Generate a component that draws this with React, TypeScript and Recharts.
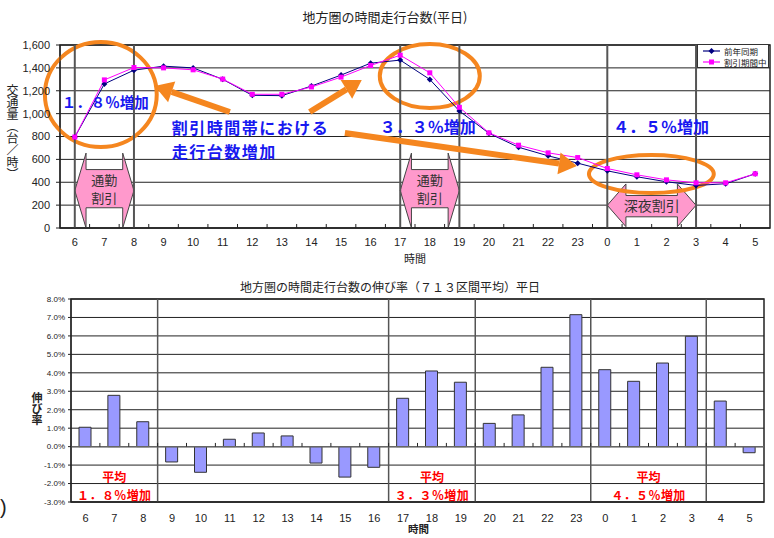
import React from 'react';
import {
  Bar,
  BarChart,
  CartesianGrid,
  Line,
  LineChart,
  ReferenceArea,
  ReferenceDot,
  ReferenceLine,
  XAxis,
  YAxis,
} from 'recharts';

// hours of the day, 6 am through 5 am next day
const hours = ['6', '7', '8', '9', '10', '11', '12', '13', '14', '15', '16', '17', '18', '19', '20', '21', '22', '23', '0', '1', '2', '3', '4', '5'];

// vehicles per hour
const prevYear = [795, 1260, 1380, 1415, 1400, 1300, 1160, 1157, 1241, 1337, 1441, 1468, 1299, 1023, 828, 706, 631, 567, 500, 448, 404, 372, 387, 474];
const discountPeriod = [795, 1295, 1403, 1400, 1383, 1302, 1169, 1169, 1233, 1319, 1421, 1511, 1357, 1055, 832, 724, 657, 616, 520, 465, 421, 395, 395, 474];

// growth rate, %
const growthRate = [1.05, 2.78, 1.35, -0.83, -1.39, 0.4, 0.74, 0.58, -0.89, -1.65, -1.12, 2.62, 4.1, 3.49, 1.26, 1.72, 4.3, 7.15, 4.17, 3.54, 4.53, 5.98, 2.47, -0.33];

const seriesNames = ['前年同期', '割引期間中'];
const volumeTicks = [0, 200, 400, 600, 800, 1000, 1200, 1400, 1600];
const rateTicks = [-3, -2, -1, 0, 1, 2, 3, 4, 5, 6, 7, 8];

// hours where the top chart has a dividing line, and hours after which the bottom chart has one
const topDividers = ['6', '8', '17', '19', '0', '3'];
const bottomDividersAfter = ['8', '16', '19', '23', '3'];

const idx = hours.map((_, i) => i);
const topData = hours.map((h, i) => ({i, hour: h, prev: prevYear[i], disc: discountPeriod[i]}));
const barData = hours.map((h, i) => ({i, hour: h, rate: growthRate[i]}));

const NAVY = '#000080';
const MAGENTA = '#ff00ff';
const ORANGE = '#f5861f';
const BLUE = '#1818f0';
const PINK = '#ff99cc';
const JP = '"Noto Sans CJK JP", sans-serif';
const NUM = '"Liberation Sans", Arial, sans-serif';

const diamond = (p: any) => {
  const {cx, cy} = p;
  if (cx == null || cy == null) return <g key={p.key} />;
  return <path key={p.key} d={`M${cx},${cy - 3}L${cx + 3},${cy}L${cx},${cy + 3}L${cx - 3},${cy}Z`} fill={NAVY} />;
};
const square = (p: any) => {
  const {cx, cy} = p;
  if (cx == null || cy == null) return <g key={p.key} />;
  return <rect key={p.key} x={cx - 2.5} y={cy - 2.5} width={5} height={5} fill={MAGENTA} />;
};

const ellipse = (p: any) => (
  <ellipse
    cx={p.x + p.width / 2}
    cy={p.y + p.height / 2}
    rx={Math.abs(p.width) / 2}
    ry={Math.abs(p.height) / 2}
    fill="none"
    stroke={ORANGE}
    strokeWidth={4}
  />
);

const arrow = (p: any) => {
  const {x1, y1, x2, y2} = p;
  const dx = x2 - x1;
  const dy = y2 - y1;
  const len = Math.hypot(dx, dy) || 1;
  const ux = dx / len;
  const uy = dy / len;
  const hl = 18;
  const hw = 11;
  const bx = x2 - ux * hl;
  const by = y2 - uy * hl;
  return (
    <g>
      <line x1={x1} y1={y1} x2={bx} y2={by} stroke={ORANGE} strokeWidth={6} />
      <polygon points={`${x2},${y2} ${bx - uy * hw},${by + ux * hw} ${bx + uy * hw},${by - ux * hw}`} fill={ORANGE} />
    </g>
  );
};

// pink double-headed arrow box
const doubleArrow = (lines: string[], inner: number, shaftTop: number, shaftBottom: number) => (p: any) => {
  const {x, y, width: w, height: h} = p;
  const pts = [
    [0, 0.5], [inner, 0], [inner, shaftTop], [1 - inner, shaftTop], [1 - inner, 0], [1, 0.5],
    [1 - inner, 1], [1 - inner, shaftBottom], [inner, shaftBottom], [inner, 1],
  ]
    .map(([fx, fy]) => `${x + fx * w},${y + fy * h}`)
    .join(' ');
  const midY = y + ((shaftTop + shaftBottom) / 2) * h;
  const lh = 18;
  const fs = lines.length > 1 ? 13 : 14;
  const startY = midY - ((lines.length - 1) * lh) / 2 + fs * 0.38;
  return (
    <g>
      <polygon points={pts} fill={PINK} stroke="#444" strokeWidth={1} />
      {lines.map((t, k) => (
        <text key={k} x={x + w / 2} y={startY + k * lh} textAnchor="middle" fontSize={fs} fill="#333" fontFamily={JP}>
          {t}
        </text>
      ))}
    </g>
  );
};

const label = (text: string, size: number, color: string, anchor: 'start' | 'middle' = 'start', spacing = 0) => (p: any) => (
  <text x={p.cx} y={p.cy} fontSize={size} fontWeight="bold" fill={color} textAnchor={anchor} fontFamily={JP} letterSpacing={spacing}>
    {text}
  </text>
);

function TopChart() {
  return (
    <LineChart width={774} height={262} data={topData} margin={{top: 45, right: 4, left: 0, bottom: 14}}>
      <CartesianGrid vertical={false} stroke="#222" />
      <XAxis
        type="number"
        dataKey="i"
        domain={[-0.5, 23.5]}
        ticks={idx}
        interval={0}
        tickFormatter={(v: number) => hours[v]}
        tickLine={false}
        tickMargin={4}
        axisLine={{stroke: '#222'}}
        tick={{fontSize: 11, fill: '#222', fontFamily: NUM}}
        height={20}
      />
      <YAxis
        domain={[0, 1600]}
        ticks={volumeTicks}
        interval={0}
        tickFormatter={(v: number) => v.toLocaleString('en-US')}
        width={60}
        tickSize={4}
        tickMargin={6}
        axisLine={{stroke: '#222'}}
        tickLine={{stroke: '#222'}}
        tick={{fontSize: 11, fill: '#222', fontFamily: NUM}}
      />
      <ReferenceArea x1={-0.5} x2={23.5} y1={0} y2={1600} fill="none" stroke="#222" strokeWidth={1.5} ifOverflow="visible" />
      {idx.slice(0, -1).map((i) => (
        <ReferenceLine key={`t${i}`} segment={[{x: i + 0.5, y: 0}, {x: i + 0.5, y: 35}]} stroke="#222" ifOverflow="visible" />
      ))}
      {topDividers.map((h) => (
        <ReferenceLine key={h} x={hours.indexOf(h)} stroke="#555" strokeWidth={2} />
      ))}
      <ReferenceArea x1={0} x2={2} y1={0} y2={655} shape={doubleArrow(['通勤', '割引'], 0.19, 0.22, 0.73)} ifOverflow="visible" />
      <ReferenceArea x1={11} x2={13} y1={0} y2={655} shape={doubleArrow(['通勤', '割引'], 0.19, 0.22, 0.73)} ifOverflow="visible" />
      <ReferenceArea x1={18} x2={21} y1={12} y2={385} shape={doubleArrow(['深夜割引'], 0.21, 0.27, 0.77)} ifOverflow="visible" />
      <Line dataKey="prev" name={seriesNames[0]} stroke={NAVY} strokeWidth={1} dot={diamond} isAnimationActive={false} />
      <Line dataKey="disc" name={seriesNames[1]} stroke={MAGENTA} strokeWidth={1} dot={square} isAnimationActive={false} />
      <ReferenceArea x1={-1.01} x2={2.77} y1={708} y2={1626} shape={ellipse} ifOverflow="visible" />
      <ReferenceArea x1={10.31} x2={13.69} y1={1049} y2={1608} shape={ellipse} ifOverflow="visible" />
      <ReferenceArea x1={17.38} x2={21.6} y1={306} y2={638} shape={ellipse} ifOverflow="visible" />
      <ReferenceLine segment={[{x: 5.24, y: 1014}, {x: 2.7, y: 1241}]} shape={arrow} ifOverflow="visible" />
      <ReferenceLine segment={[{x: 7.94, y: 1014}, {x: 9.7, y: 1294}]} shape={arrow} ifOverflow="visible" />
      <ReferenceLine segment={[{x: 9.13, y: 830}, {x: 16.97, y: 542}]} shape={arrow} ifOverflow="visible" />
      <ReferenceDot x={-0.44} y={1049} r={0} shape={label('１．８％増加', 14.5, BLUE)} ifOverflow="visible" />
      <ReferenceDot x={3.28} y={820} r={0} shape={label('割引時間帯における', 16, BLUE, 'start', 1.5)} ifOverflow="visible" />
      <ReferenceDot x={3.28} y={610} r={0} shape={label('走行台数増加', 16, BLUE, 'start', 1.5)} ifOverflow="visible" />
      <ReferenceDot x={10.31} y={830} r={0} shape={label('３．３％増加', 16, BLUE)} ifOverflow="visible" />
      <ReferenceDot x={18.19} y={830} r={0} shape={label('４．５％増加', 16, BLUE)} ifOverflow="visible" />
    </LineChart>
  );
}

function BottomChart() {
  return (
    <BarChart width={774} height={268} data={barData} margin={{top: 29, right: 10, left: 0, bottom: 16}}>
      <CartesianGrid vertical={false} stroke="#222" />
      <XAxis
        type="number"
        dataKey="i"
        domain={[-0.5, 23.5]}
        ticks={idx}
        interval={0}
        tickFormatter={(v: number) => hours[v]}
        tickLine={false}
        tickMargin={6}
        axisLine={{stroke: '#222'}}
        tick={{fontSize: 11, fill: '#222', fontFamily: NUM}}
        height={20}
      />
      <YAxis
        domain={[-3, 8]}
        ticks={rateTicks}
        interval={0}
        tickFormatter={(v: number) => `${v.toFixed(1)}%`}
        width={71}
        tickSize={3}
        tickMargin={3}
        axisLine={{stroke: '#222'}}
        tickLine={{stroke: '#222'}}
        tick={{fontSize: 8, fill: '#222', fontFamily: NUM}}
      />
      <ReferenceArea x1={-0.5} x2={23.5} y1={-3} y2={8} fill="none" stroke="#222" strokeWidth={1.5} ifOverflow="visible" />
      {bottomDividersAfter.map((h) => (
        <ReferenceLine key={h} x={hours.indexOf(h) + 0.5} stroke="#555" strokeWidth={1.5} />
      ))}
      <ReferenceLine y={0} stroke="#666" strokeWidth={1.5} />
      {idx.slice(0, -1).map((i) => (
        <ReferenceLine key={`t${i}`} segment={[{x: i + 0.5, y: 0}, {x: i + 0.5, y: 0.2}]} stroke="#222" ifOverflow="visible" />
      ))}
      <Bar dataKey="rate" fill="#9999ff" stroke="#333" strokeWidth={1} barSize={12} isAnimationActive={false} />
      <ReferenceDot x={1} y={-1.9} r={0} shape={label('平均', 12, '#ff0000', 'middle')} ifOverflow="visible" />
      <ReferenceDot x={1} y={-2.9} r={0} shape={label('１．８％増加', 12, '#ff0000', 'middle', 0.4)} ifOverflow="visible" />
      <ReferenceDot x={12} y={-1.9} r={0} shape={label('平均', 12, '#ff0000', 'middle')} ifOverflow="visible" />
      <ReferenceDot x={12} y={-2.9} r={0} shape={label('３．３％増加', 12, '#ff0000', 'middle', 0.4)} ifOverflow="visible" />
      <ReferenceDot x={19.5} y={-1.9} r={0} shape={label('平均', 12, '#ff0000', 'middle')} ifOverflow="visible" />
      <ReferenceDot x={19.5} y={-2.9} r={0} shape={label('４．５％増加', 12, '#ff0000', 'middle', 0.4)} ifOverflow="visible" />
    </BarChart>
  );
}

const abs = (s: React.CSSProperties): React.CSSProperties => ({position: 'absolute', margin: 0, lineHeight: 1, ...s});

export default function App() {
  return (
    <div style={{position: 'absolute', left: 0, top: 0, width: 774, height: 538, background: '#fff', overflow: 'hidden', fontFamily: JP}}>
      <div style={abs({left: 0, top: 10, width: 770, textAlign: 'center', fontSize: 13, color: '#222'})}>地方圏の時間走行台数(平日)</div>
      <div style={abs({left: 6, top: 84, fontSize: 12, color: '#222', writingMode: 'vertical-rl'})}>交通量（台／時）</div>
      <div style={abs({left: 404, top: 253, fontSize: 11, color: '#222'})}>時間</div>
      <div style={abs({left: 0, top: 0})}>
        <TopChart />
      </div>
      <div style={abs({left: 697, top: 44, width: 72, height: 24, border: '1px solid #333', background: '#fff', fontSize: 8.5, color: '#222', whiteSpace: 'nowrap', boxSizing: 'border-box'})}>
        {seriesNames.map((n, k) => (
          <div key={n} style={{display: 'flex', alignItems: 'center', height: 11, marginTop: k === 0 ? 0.5 : 0}}>
            <svg width={21} height={8} style={{marginLeft: 5, flex: 'none'}}>
              <line x1={0} y1={4} x2={17} y2={4} stroke={k === 0 ? NAVY : MAGENTA} strokeWidth={1.2} />
              {k === 0 ? <path d="M8.5,1L11.5,4L8.5,7L5.5,4Z" fill={NAVY} /> : <rect x={6} y={1.5} width={5} height={5} fill={MAGENTA} />}
            </svg>
            <span>{n}</span>
          </div>
        ))}
      </div>
      <div style={abs({left: 0, top: 281, width: 780, textAlign: 'center', fontSize: 12, color: '#222'})}>地方圏の時間走行台数の伸び率（７１３区間平均）平日</div>
      <div style={abs({left: 31, top: 392, fontSize: 11, fontWeight: 'bold', color: '#222', writingMode: 'vertical-rl'})}>伸び率</div>
      <div style={abs({left: 408, top: 524, fontSize: 10.5, fontWeight: 'bold', color: '#222'})}>時間</div>
      <div style={abs({left: 0, top: 497, fontSize: 20, color: '#222', fontFamily: NUM})}>)</div>
      <div style={abs({left: 0, top: 270})}>
        <BottomChart />
      </div>
    </div>
  );
}
